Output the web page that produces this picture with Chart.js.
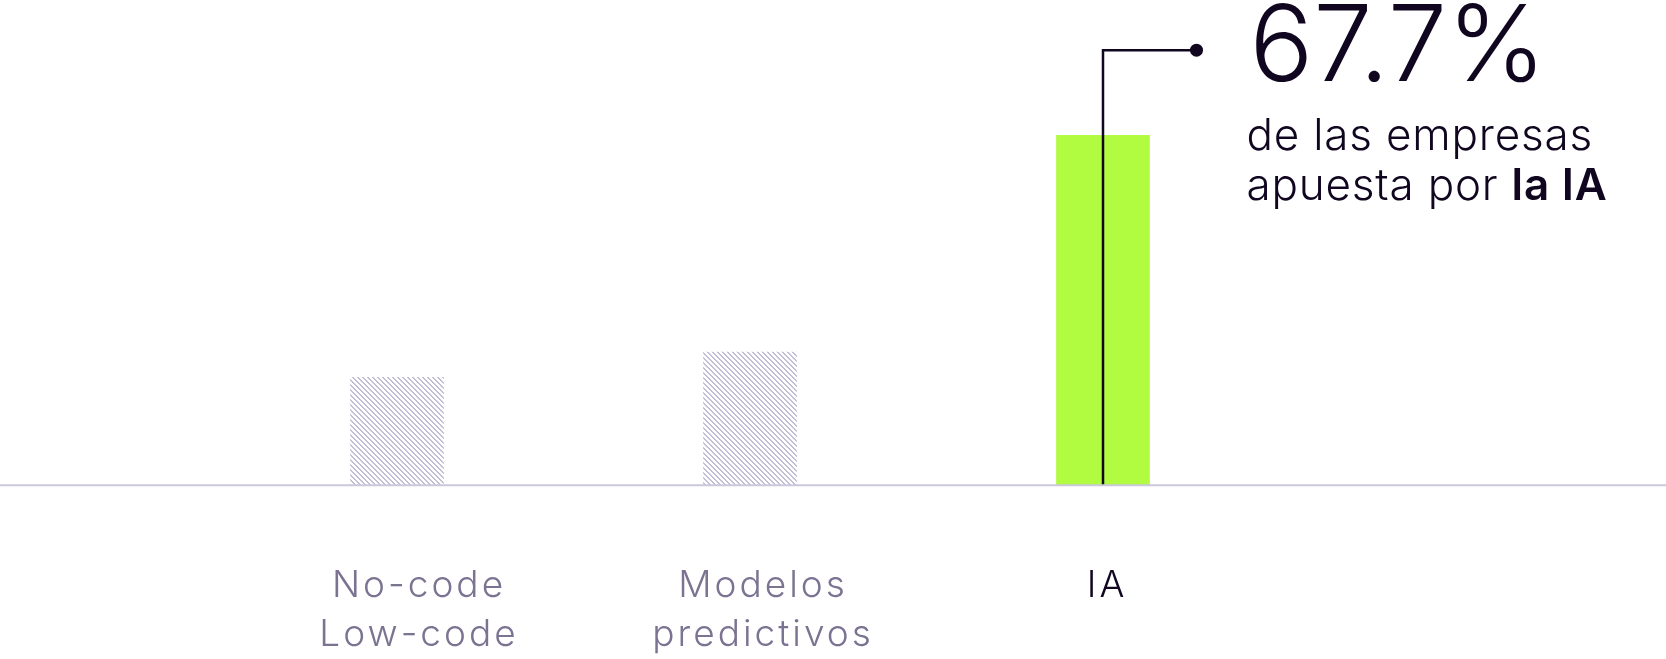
<!DOCTYPE html>
<html lang="es">
<head>
<meta charset="utf-8">
<title>IA en las empresas</title>
<script src="https://cdn.jsdelivr.net/npm/chart.js@4.4.1/dist/chart.umd.min.js"></script>
<style>
  html, body { margin: 0; padding: 0; background: #fff; }
  #wrap { position: relative; width: 1666px; height: 659px; }
</style>
</head>
<body>
<div id="wrap"><canvas id="grafico"></canvas></div>
<script>
// Datos del gráfico
const categorias = ['No-code Low-code', 'Modelos predictivos', 'IA'];
const etiquetas = [['No-code', 'Low-code'], ['Modelos', 'predictivos'], ['IA']];
const valores = [20.9, 25.8, 67.7];
const destacado = 2; // barra resaltada (IA)
const lineasTexto = ['de las empresas', 'apuesta por '];
const textoNegrita = 'la IA';

const VERDE = '#b1fb41';
const LILA = '#c2bed6';
const OSCURO = '#110620';
const GRIS = '#7b7391';
const NIVEL_LLAMADA = 84.2; // altura de la línea de llamada, en unidades del eje y

// Patrón rayado (\\\) para las barras grises, pixel a pixel para que quede nítido
function rayado(color) {
    const p = 5;
    const c = document.createElement('canvas');
    c.width = p;
    c.height = p;
    const g = c.getContext('2d');
    g.fillStyle = color;
    for (let y = 0; y < p; y++) {
        for (let x = 0; x < p; x++) {
            const d = ((x - y) % p + p) % p;
            if (d < 2) g.fillRect(x, y, 1, 1);
        }
    }
    return g.createPattern(c, 'repeat');
}

// Espaciado de letras para las etiquetas del eje (la fuente original es más ancha)
const espaciado = {
    id: 'espaciado',
    beforeDraw(chart) {
        chart.ctx.letterSpacing = '3px';
    },
    beforeDatasetsDraw(chart) {
        chart.ctx.letterSpacing = '0px';
    }
};

// Línea base de lado a lado
const lineaBase = {
    id: 'lineaBase',
    afterDatasetsDraw(chart) {
        const ctx = chart.ctx;
        const y = chart.scales.y.getPixelForValue(0);
        ctx.save();
        ctx.strokeStyle = '#cbc8dc';
        ctx.lineWidth = 2;
        ctx.beginPath();
        ctx.moveTo(0, y);
        ctx.lineTo(chart.width, y);
        ctx.stroke();
        ctx.restore();
    }
};

// Llamada con el porcentaje
const llamada = {
    id: 'llamada',
    afterDraw(chart) {
        const ctx = chart.ctx;
        const bar = chart.getDatasetMeta(0).data[destacado];
        const y0 = chart.scales.y.getPixelForValue(0);
        const y1 = chart.scales.y.getPixelForValue(NIVEL_LLAMADA);
        const xPunto = bar.x + bar.width / 2 + 47;
        const xTexto = xPunto + 53;

        ctx.save();
        ctx.strokeStyle = OSCURO;
        ctx.fillStyle = OSCURO;
        ctx.lineWidth = 2.5;
        ctx.beginPath();
        ctx.moveTo(bar.x, y0 - 1);
        ctx.lineTo(bar.x, y1);
        ctx.lineTo(xPunto, y1);
        ctx.stroke();
        ctx.beginPath();
        ctx.arc(xPunto, y1, 6.5, 0, Math.PI * 2);
        ctx.fill();

        ctx.textBaseline = 'alphabetic';
        ctx.textAlign = 'left';
        ctx.letterSpacing = '0px';
        ctx.font = '300 106px Inter';
        ctx.fillText(valores[destacado].toFixed(1) + '%', xTexto, y1 + 31);

        ctx.letterSpacing = '0.8px';
        ctx.font = '300 44px Inter';
        ctx.fillText(lineasTexto[0], xTexto - 3, y1 + 100);
        ctx.fillText(lineasTexto[1], xTexto - 3, y1 + 150);
        const w = ctx.measureText(lineasTexto[1]).width;
        ctx.font = '600 44px Inter';
        ctx.fillText(textoNegrita, xTexto - 3 + w, y1 + 150);
        ctx.restore();
    }
};

new Chart(document.getElementById('grafico'), {
    type: 'bar',
    data: {
        labels: categorias,
        datasets: [{
            data: valores,
            backgroundColor: valores.map((v, i) => i === destacado ? VERDE : rayado(LILA)),
            borderWidth: 0,
            barThickness: 93
        }]
    },
    options: {
        responsive: true,
        maintainAspectRatio: false,
        animation: false,
        layout: { padding: { left: 220.5, right: 386.5, top: 0, bottom: 0 } },
        plugins: {
            legend: { display: false },
            tooltip: { enabled: false }
        },
        scales: {
            x: { display: false, offset: true },
            y: { display: false, min: 0, max: 93.9 },
            etiquetas: {
                type: 'linear',
                position: 'bottom',
                offset: false,
                min: 0.423,
                max: 3.501,
                // marcas invisibles: solo sirven para separar las etiquetas de la línea base
                grid: { display: true, color: 'transparent', drawOnChartArea: false, drawTicks: true, tickLength: 76 },
                border: { display: false },
                afterBuildTicks: axis => {
                    axis.ticks = etiquetas.map((_, i) => ({ value: i + 1 }));
                },
                ticks: {
                    autoSkip: false,
                    maxRotation: 0,
                    padding: 0,
                    color: c => c.index === destacado ? OSCURO : GRIS,
                    font: { family: 'Inter', size: 37, weight: 300, lineHeight: 1.32 },
                    callback: (v, i) => etiquetas[i]
                }
            }
        }
    },
    plugins: [espaciado, lineaBase, llamada]
});
</script>
</body>
</html>
